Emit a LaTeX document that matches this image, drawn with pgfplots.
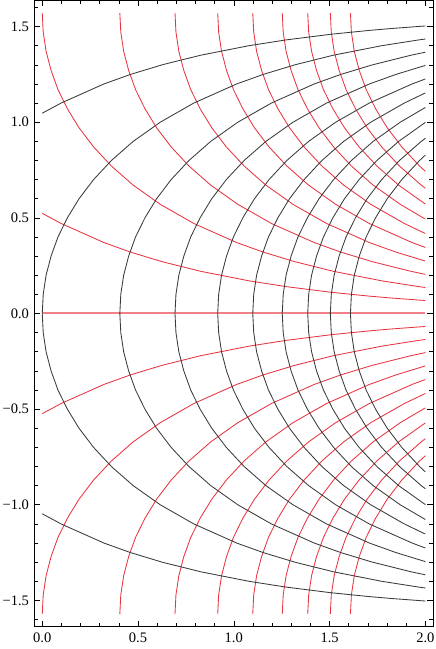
\documentclass[border=0pt]{standalone}
\usepackage{fontspec}
\setmainfont{Liberation Serif}
\usepackage{pgfplots}
\pgfplotsset{compat=1.18}
\definecolor{cre}{RGB}{232,52,64}
\definecolor{crl}{RGB}{242,128,136}
\definecolor{cbk}{RGB}{58,58,58}
\begin{document}
\begin{tikzpicture}
\begin{axis}[scale only axis, width=398.4pt, height=626pt,
  xmin=-0.04, xmax=2.04, ymin=-1.6363, ymax=1.6363,
  xtick={0,0.5,1,1.5,2}, xticklabels={0.0,0.5,1.0,1.5,2.0},
  ytick={-1.5,-1,-0.5,0,0.5,1,1.5},
  yticklabels={−1.5,−1.0,−0.5,0.0,0.5,1.0,1.5},
  minor xtick={0,0.1,...,2.05}, minor ytick={-1.6,-1.5,...,1.65},
  tick pos=both, tick align=inside,
  major tick length=5.5pt, minor tick length=3.5pt,
  every tick/.style={black, line width=0.6pt},
  axis line style={line width=0.8pt},
  tick label style={font=\fontsize{14.5}{16}\selectfont, inner sep=0pt},
  xticklabel style={yshift=-6.5pt},
  yticklabel style={xshift=-5.5pt},
  every axis plot/.append style={line width=0.85pt, mark=none},
]
% Im = 0 on the real axis
\addplot[color=crl, line width=2pt] coordinates {(0,0) (2,0)};
% Im = const (red), upper and lower halves
\addplot[cre] coordinates {(0,0.5236) (0.098,0.4708) (0.322,0.3708) (0.461,0.3208) (0.626,0.2708) (0.826,0.2208) (1.079,0.1708) (1.271,0.1408) (1.509,0.1108) (1.708,0.0908) (1.824,0.0808) (2,0.0677)};
\addplot[cre] coordinates {(0,-0.5236) (0.098,-0.4708) (0.322,-0.3708) (0.461,-0.3208) (0.626,-0.2708) (0.826,-0.2208) (1.079,-0.1708) (1.271,-0.1408) (1.509,-0.1108) (1.708,-0.0908) (1.824,-0.0808) (2,-0.0677)};
\addplot[cre] coordinates {(0,1.5708) (0.005,1.4708) (0.020,1.3708) (0.046,1.2708) (0.082,1.1708) (0.131,1.0708) (0.192,0.9708) (0.268,0.8708) (0.361,0.7708) (0.475,0.6708) (0.616,0.5708) (0.791,0.4708) (1.015,0.3708) (1.154,0.3208) (1.319,0.2708) (1.519,0.2208) (1.772,0.1708) (1.964,0.1408) (2,0.1358)};
\addplot[cre] coordinates {(0,-1.5708) (0.005,-1.4708) (0.020,-1.3708) (0.046,-1.2708) (0.082,-1.1708) (0.131,-1.0708) (0.192,-0.9708) (0.268,-0.8708) (0.361,-0.7708) (0.475,-0.6708) (0.616,-0.5708) (0.791,-0.4708) (1.015,-0.3708) (1.154,-0.3208) (1.319,-0.2708) (1.519,-0.2208) (1.772,-0.1708) (1.964,-0.1408) (2,-0.1358)};
\addplot[cre] coordinates {(0.405,1.5708) (0.410,1.4708) (0.425,1.3708) (0.451,1.2708) (0.487,1.1708) (0.536,1.0708) (0.597,0.9708) (0.673,0.8708) (0.766,0.7708) (0.880,0.6708) (1.021,0.5708) (1.196,0.4708) (1.420,0.3708) (1.559,0.3208) (1.724,0.2708) (1.924,0.2208) (2,0.2044)};
\addplot[cre] coordinates {(0.405,-1.5708) (0.410,-1.4708) (0.425,-1.3708) (0.451,-1.2708) (0.487,-1.1708) (0.536,-1.0708) (0.597,-0.9708) (0.673,-0.8708) (0.766,-0.7708) (0.880,-0.6708) (1.021,-0.5708) (1.196,-0.4708) (1.420,-0.3708) (1.559,-0.3208) (1.724,-0.2708) (1.924,-0.2208) (2,-0.2044)};
\addplot[cre] coordinates {(0.693,1.5708) (0.698,1.4708) (0.713,1.3708) (0.739,1.2708) (0.775,1.1708) (0.824,1.0708) (0.885,0.9708) (0.961,0.8708) (1.054,0.7708) (1.168,0.6708) (1.309,0.5708) (1.484,0.4708) (1.708,0.3708) (1.847,0.3208) (2,0.2741)};
\addplot[cre] coordinates {(0.693,-1.5708) (0.698,-1.4708) (0.713,-1.3708) (0.739,-1.2708) (0.775,-1.1708) (0.824,-1.0708) (0.885,-0.9708) (0.961,-0.8708) (1.054,-0.7708) (1.168,-0.6708) (1.309,-0.5708) (1.484,-0.4708) (1.708,-0.3708) (1.847,-0.3208) (2,-0.2741)};
\addplot[cre] coordinates {(0.916,1.5708) (0.921,1.4708) (0.936,1.3708) (0.962,1.2708) (0.998,1.1708) (1.047,1.0708) (1.108,0.9708) (1.184,0.8708) (1.277,0.7708) (1.391,0.6708) (1.532,0.5708) (1.707,0.4708) (1.931,0.3708) (2,0.3452)};
\addplot[cre] coordinates {(0.916,-1.5708) (0.921,-1.4708) (0.936,-1.3708) (0.962,-1.2708) (0.998,-1.1708) (1.047,-1.0708) (1.108,-0.9708) (1.184,-0.8708) (1.277,-0.7708) (1.391,-0.6708) (1.532,-0.5708) (1.707,-0.4708) (1.931,-0.3708) (2,-0.3452)};
\addplot[cre] coordinates {(1.099,1.5708) (1.104,1.4708) (1.119,1.3708) (1.145,1.2708) (1.181,1.1708) (1.230,1.0708) (1.291,0.9708) (1.367,0.8708) (1.460,0.7708) (1.574,0.6708) (1.715,0.5708) (1.890,0.4708) (2,0.4181)};
\addplot[cre] coordinates {(1.099,-1.5708) (1.104,-1.4708) (1.119,-1.3708) (1.145,-1.2708) (1.181,-1.1708) (1.230,-1.0708) (1.291,-0.9708) (1.367,-0.8708) (1.460,-0.7708) (1.574,-0.6708) (1.715,-0.5708) (1.890,-0.4708) (2,-0.4181)};
\addplot[cre] coordinates {(1.253,1.5708) (1.258,1.4708) (1.273,1.3708) (1.299,1.2708) (1.335,1.1708) (1.384,1.0708) (1.445,0.9708) (1.521,0.8708) (1.614,0.7708) (1.728,0.6708) (1.869,0.5708) (2,0.4935)};
\addplot[cre] coordinates {(1.253,-1.5708) (1.258,-1.4708) (1.273,-1.3708) (1.299,-1.2708) (1.335,-1.1708) (1.384,-1.0708) (1.445,-0.9708) (1.521,-0.8708) (1.614,-0.7708) (1.728,-0.6708) (1.869,-0.5708) (2,-0.4935)};
\addplot[cre] coordinates {(1.386,1.5708) (1.391,1.4708) (1.406,1.3708) (1.432,1.2708) (1.468,1.1708) (1.517,1.0708) (1.578,0.9708) (1.654,0.8708) (1.747,0.7708) (1.861,0.6708) (2,0.5720)};
\addplot[cre] coordinates {(1.386,-1.5708) (1.391,-1.4708) (1.406,-1.3708) (1.432,-1.2708) (1.468,-1.1708) (1.517,-1.0708) (1.578,-0.9708) (1.654,-0.8708) (1.747,-0.7708) (1.861,-0.6708) (2,-0.5720)};
\addplot[cre] coordinates {(1.504,1.5708) (1.509,1.4708) (1.524,1.3708) (1.550,1.2708) (1.586,1.1708) (1.635,1.0708) (1.696,0.9708) (1.772,0.8708) (1.865,0.7708) (1.979,0.6708) (2,0.6548)};
\addplot[cre] coordinates {(1.504,-1.5708) (1.509,-1.4708) (1.524,-1.3708) (1.550,-1.2708) (1.586,-1.1708) (1.635,-1.0708) (1.696,-0.9708) (1.772,-0.8708) (1.865,-0.7708) (1.979,-0.6708) (2,-0.6548)};
\addplot[cre] coordinates {(1.609,1.5708) (1.614,1.4708) (1.629,1.3708) (1.655,1.2708) (1.691,1.1708) (1.740,1.0708) (1.801,0.9708) (1.877,0.8708) (1.970,0.7708) (2,0.7432)};
\addplot[cre] coordinates {(1.609,-1.5708) (1.614,-1.4708) (1.629,-1.3708) (1.655,-1.2708) (1.691,-1.1708) (1.740,-1.0708) (1.801,-0.9708) (1.877,-0.8708) (1.970,-0.7708) (2,-0.7432)};
% Re = const (dark)
\addplot[cbk] coordinates {(0,1.0472) (0.098,1.1) (0.322,1.2) (0.461,1.25) (0.626,1.3) (0.826,1.35) (1.079,1.4) (1.271,1.43) (1.509,1.46) (1.708,1.48) (1.824,1.49) (2,1.5031)};
\addplot[cbk] coordinates {(0,-1.0472) (0.098,-1.1) (0.322,-1.2) (0.461,-1.25) (0.626,-1.3) (0.826,-1.35) (1.079,-1.4) (1.271,-1.43) (1.509,-1.46) (1.708,-1.48) (1.824,-1.49) (2,-1.5031)};
\addplot[cbk] coordinates {(2,-1.435) (1.964,-1.43) (1.772,-1.4) (1.519,-1.35) (1.319,-1.3) (1.154,-1.25) (1.015,-1.2) (0.791,-1.1) (0.616,-1.0) (0.475,-0.9) (0.361,-0.8) (0.268,-0.7) (0.192,-0.6) (0.131,-0.5) (0.082,-0.4) (0.046,-0.3) (0.020,-0.2) (0.005,-0.1) (0,0) (0.005,0.1) (0.020,0.2) (0.046,0.3) (0.082,0.4) (0.131,0.5) (0.192,0.6) (0.268,0.7) (0.361,0.8) (0.475,0.9) (0.616,1.0) (0.791,1.1) (1.015,1.2) (1.154,1.25) (1.319,1.3) (1.519,1.35) (1.772,1.4) (1.964,1.43) (2,1.435)};
\addplot[cbk] coordinates {(2,-1.366) (1.924,-1.35) (1.724,-1.3) (1.559,-1.25) (1.420,-1.2) (1.196,-1.1) (1.021,-1.0) (0.880,-0.9) (0.766,-0.8) (0.673,-0.7) (0.597,-0.6) (0.536,-0.5) (0.487,-0.4) (0.451,-0.3) (0.425,-0.2) (0.410,-0.1) (0.405,0) (0.410,0.1) (0.425,0.2) (0.451,0.3) (0.487,0.4) (0.536,0.5) (0.597,0.6) (0.673,0.7) (0.766,0.8) (0.880,0.9) (1.021,1.0) (1.196,1.1) (1.420,1.2) (1.559,1.25) (1.724,1.3) (1.924,1.35) (2,1.366)};
\addplot[cbk] coordinates {(2,-1.297) (1.847,-1.25) (1.708,-1.2) (1.484,-1.1) (1.309,-1.0) (1.168,-0.9) (1.054,-0.8) (0.961,-0.7) (0.885,-0.6) (0.824,-0.5) (0.775,-0.4) (0.739,-0.3) (0.713,-0.2) (0.698,-0.1) (0.693,0) (0.698,0.1) (0.713,0.2) (0.739,0.3) (0.775,0.4) (0.824,0.5) (0.885,0.6) (0.961,0.7) (1.054,0.8) (1.168,0.9) (1.309,1.0) (1.484,1.1) (1.708,1.2) (1.847,1.25) (2,1.297)};
\addplot[cbk] coordinates {(2,-1.226) (1.931,-1.2) (1.707,-1.1) (1.532,-1.0) (1.391,-0.9) (1.277,-0.8) (1.184,-0.7) (1.108,-0.6) (1.047,-0.5) (0.998,-0.4) (0.962,-0.3) (0.936,-0.2) (0.921,-0.1) (0.916,0) (0.921,0.1) (0.936,0.2) (0.962,0.3) (0.998,0.4) (1.047,0.5) (1.108,0.6) (1.184,0.7) (1.277,0.8) (1.391,0.9) (1.532,1.0) (1.707,1.1) (1.931,1.2) (2,1.226)};
\addplot[cbk] coordinates {(2,-1.153) (1.890,-1.1) (1.715,-1.0) (1.574,-0.9) (1.460,-0.8) (1.367,-0.7) (1.291,-0.6) (1.230,-0.5) (1.181,-0.4) (1.145,-0.3) (1.119,-0.2) (1.104,-0.1) (1.099,0) (1.104,0.1) (1.119,0.2) (1.145,0.3) (1.181,0.4) (1.230,0.5) (1.291,0.6) (1.367,0.7) (1.460,0.8) (1.574,0.9) (1.715,1.0) (1.890,1.1) (2,1.153)};
\addplot[cbk] coordinates {(2,-1.077) (1.869,-1.0) (1.728,-0.9) (1.614,-0.8) (1.521,-0.7) (1.445,-0.6) (1.384,-0.5) (1.335,-0.4) (1.299,-0.3) (1.273,-0.2) (1.258,-0.1) (1.253,0) (1.258,0.1) (1.273,0.2) (1.299,0.3) (1.335,0.4) (1.384,0.5) (1.445,0.6) (1.521,0.7) (1.614,0.8) (1.728,0.9) (1.869,1.0) (2,1.077)};
\addplot[cbk] coordinates {(2,-0.999) (1.861,-0.9) (1.747,-0.8) (1.654,-0.7) (1.578,-0.6) (1.517,-0.5) (1.468,-0.4) (1.432,-0.3) (1.406,-0.2) (1.391,-0.1) (1.386,0) (1.391,0.1) (1.406,0.2) (1.432,0.3) (1.468,0.4) (1.517,0.5) (1.578,0.6) (1.654,0.7) (1.747,0.8) (1.861,0.9) (2,0.999)};
\addplot[cbk] coordinates {(2,-0.916) (1.979,-0.9) (1.865,-0.8) (1.772,-0.7) (1.696,-0.6) (1.635,-0.5) (1.586,-0.4) (1.550,-0.3) (1.524,-0.2) (1.509,-0.1) (1.504,0) (1.509,0.1) (1.524,0.2) (1.550,0.3) (1.586,0.4) (1.635,0.5) (1.696,0.6) (1.772,0.7) (1.865,0.8) (1.979,0.9) (2,0.916)};
\addplot[cbk] coordinates {(2,-0.828) (1.970,-0.8) (1.877,-0.7) (1.801,-0.6) (1.740,-0.5) (1.691,-0.4) (1.655,-0.3) (1.629,-0.2) (1.614,-0.1) (1.609,0) (1.614,0.1) (1.629,0.2) (1.655,0.3) (1.691,0.4) (1.740,0.5) (1.801,0.6) (1.877,0.7) (1.970,0.8) (2,0.828)};
\end{axis}
\path (current axis.south west) ++(-34.6pt,-22.5pt) (current axis.north east) ++(3pt,0.5pt);
\end{tikzpicture}
\end{document}
